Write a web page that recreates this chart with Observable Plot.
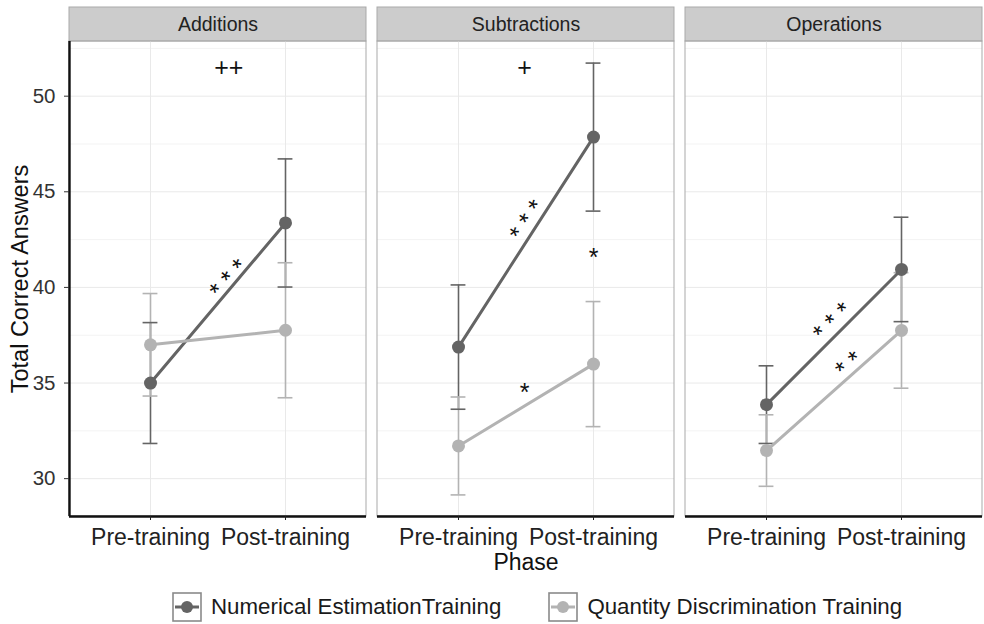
<!DOCTYPE html>
<html>
<head>
<meta charset="utf-8">
<script src="https://cdn.jsdelivr.net/npm/d3@7"></script>
<script src="https://cdn.jsdelivr.net/npm/@observablehq/plot@0.6"></script>
<style>
  html, body { margin: 0; padding: 0; background: #fff; }
  body { width: 984px; height: 624px; overflow: hidden; font-family: "Liberation Sans", Arial, Helvetica, sans-serif; }
  #legend { display: flex; align-items: center; height: 48px; padding: 14px 0 0 172px; box-sizing: border-box; font-size: 22.3px; color: #1a1a1a; }
  .item { display: flex; align-items: center; white-space: nowrap; }
  .item + .item { margin-left: 47px; }
  .key { width: 30px; height: 30px; margin-right: 9px; display: block; }
</style>
</head>
<body>
<div id="chart"></div>
<div id="legend"></div>
<script>
const panels = ["Additions", "Subtractions", "Operations"];
const phases = ["Pre-training", "Post-training"];
const groups = ["Numerical EstimationTraining", "Quantity Discrimination Training"];
const groupColors = ["#646464", "#b3b3b3"];

// Mean total correct answers and standard errors, one entry per panel
const numericalPre = [35.0, 36.88, 33.87];
const numericalPost = [43.37, 47.86, 40.94];
const numericalPreSE = [3.16, 3.25, 2.03];
const numericalPostSE = [3.35, 3.87, 2.73];
const quantityPre = [37.0, 31.71, 31.47];
const quantityPost = [37.76, 35.99, 37.75];
const quantityPreSE = [2.68, 2.56, 1.87];
const quantityPostSE = [3.53, 3.27, 3.02];

const yTicks = [30, 35, 40, 45, 50];
const yMinor = [32.5, 37.5, 42.5, 47.5, 52.5];

// Significance markers
const sigText = ["++", "+", "* * *", "* * *", "*", "*", "* * *", "* *"];
const sigPanel = ["Additions", "Subtractions", "Additions", "Subtractions", "Subtractions", "Subtractions", "Operations", "Operations"];
const sigX = [1.58, 1.49, 1.58, 1.51, 2.0, 1.49, 1.49, 1.61];
const sigY = [51.45, 51.45, 40.45, 43.5, 41.56, 34.46, 38.2, 35.96];
const sigAngle = [0, 0, -48, -56, 0, 0, -45, -40];

// Long-format table: one row per panel × group × phase
const series = [
  [numericalPre, numericalPost, numericalPreSE, numericalPostSE],
  [quantityPre, quantityPost, quantityPreSE, quantityPostSE]
];
const rows = [];
panels.forEach((panel, i) => {
  series.forEach(([pre, post, preSE, postSE], g) => {
    rows.push({panel, group: groups[g], phase: 1, mean: pre[i], se: preSE[i]});
    rows.push({panel, group: groups[g], phase: 2, mean: post[i], se: postSE[i]});
  });
});
const caps = rows.flatMap(d => [
  {...d, y: d.mean - d.se},
  {...d, y: d.mean + d.se}
]);
const sig = sigText.map((text, i) => ({text, panel: sigPanel[i], x: sigX[i], y: sigY[i], angle: sigAngle[i]}));

// Discrete x positions 1 and 2, expanded by 0.6 on each side
const xLo = 0.4, xHi = 2.6;
// Continuous y range with 5% expansion around the error bars
const lows = rows.map(d => d.mean - d.se), highs = rows.map(d => d.mean + d.se);
const dMin = d3.min(lows), dMax = d3.max(highs);
const yLo = dMin - 0.05 * (dMax - dMin), yHi = dMax + 0.05 * (dMax - dMin);
// Room above each panel for its strip (34px of a 475px panel)
const yTop = yHi + (yHi - yLo) * 34 / 475;
const capHalf = 0.055;

const font = '"Liberation Sans", Arial, Helvetica, sans-serif';

const chart = Plot.plot({
  width: 984,
  height: 576,
  marginLeft: 69,
  marginRight: 2,
  marginTop: 7,
  marginBottom: 60,
  style: {fontFamily: font, fontSize: "20px", color: "#333", background: "white", overflow: "visible"},
  fx: {domain: panels, paddingInner: 11 / 308, paddingOuter: 0, round: false, axis: null, label: null},
  x: {domain: [xLo, xHi], axis: null},
  y: {domain: [yLo, yTop], axis: null},
  color: {domain: groups, range: groupColors},
  marks: [
    // strips
    Plot.rect([0], {x1: xLo, x2: xHi, y1: yHi, y2: yTop, fill: "#cccccc", stroke: "#a9a9a9", strokeWidth: 1}),
    Plot.text(panels, {fx: d => d, x: (xLo + xHi) / 2, y: (yHi + yTop) / 2, text: d => d, fontSize: 19.5, fill: "#222", lineAnchor: "middle"}),
    // grid
    Plot.ruleY(yMinor, {stroke: "#f3f3f3", strokeWidth: 1}),
    Plot.ruleY(yTicks, {stroke: "#e9e9e9", strokeWidth: 1}),
    Plot.ruleX([1, 2], {y1: yLo, y2: yHi, stroke: "#e9e9e9", strokeWidth: 1}),
    // panel border
    Plot.rect([0], {x1: xLo, x2: xHi, y1: yLo, y2: yHi, fill: "none", stroke: "#a9a9a9", strokeWidth: 1}),
    // axis lines
    Plot.ruleY([yLo], {stroke: "#111", strokeWidth: 2.4}),
    Plot.ruleX([panels[0]], {fx: d => d, x: xLo, y1: yLo, y2: yHi, stroke: "#111", strokeWidth: 2.4}),
    // axes
    Plot.axisY(yTicks, {anchor: "left", tickSize: 5, tickPadding: 9, fontSize: 20.5, color: "#333", label: null}),
    Plot.axisX([1, 2], {anchor: "bottom", tickSize: 4, tickPadding: 8, fontSize: 23, color: "#222", label: null, tickFormat: d => phases[d - 1]}),
    Plot.text(["Total Correct Answers"], {fx: () => panels[0], x: xLo, y: (yLo + yHi) / 2, text: d => d, rotate: -90, dx: -49, fontSize: 23.5, fill: "#111", lineAnchor: "middle"}),
    Plot.text(["Phase"], {fx: () => panels[1], x: (xLo + xHi) / 2, y: yLo, text: d => d, dy: 37, fontSize: 23, fill: "#111", lineAnchor: "top"}),
    // error bars
    Plot.ruleX(rows, {fx: "panel", x: "phase", y1: d => d.mean - d.se, y2: d => d.mean + d.se, stroke: "group", strokeWidth: 1.6}),
    Plot.ruleY(caps, {fx: "panel", y: "y", x1: d => d.phase - capHalf, x2: d => d.phase + capHalf, stroke: "group", strokeWidth: 1.6}),
    // group means
    Plot.line(rows, {fx: "panel", x: "phase", y: "mean", z: "group", stroke: "group", strokeWidth: 3}),
    Plot.dot(rows, {fx: "panel", x: "phase", y: "mean", fill: "group", r: 6.5}),
    // significance markers
    Plot.text(sig, {fx: "panel", x: "x", y: "y", text: "text", rotate: "angle", fontSize: 25, fill: "#111", lineAnchor: "middle"})
  ]
});
document.getElementById("chart").appendChild(chart);

// Legend below the panels
const legend = document.getElementById("legend");
groups.forEach((g, i) => {
  const item = document.createElement("div");
  item.className = "item";
  item.innerHTML =
    `<svg class="key" viewBox="0 0 30 30">` +
    `<rect x="1" y="1" width="28" height="28" fill="white" stroke="#8a8a8a" stroke-width="1.6"/>` +
    `<line x1="3" x2="27" y1="15" y2="15" stroke="${groupColors[i]}" stroke-width="3"/>` +
    `<circle cx="15" cy="15" r="6" fill="${groupColors[i]}"/>` +
    `</svg><span>${g}</span>`;
  legend.appendChild(item);
});
</script>
</body>
</html>
